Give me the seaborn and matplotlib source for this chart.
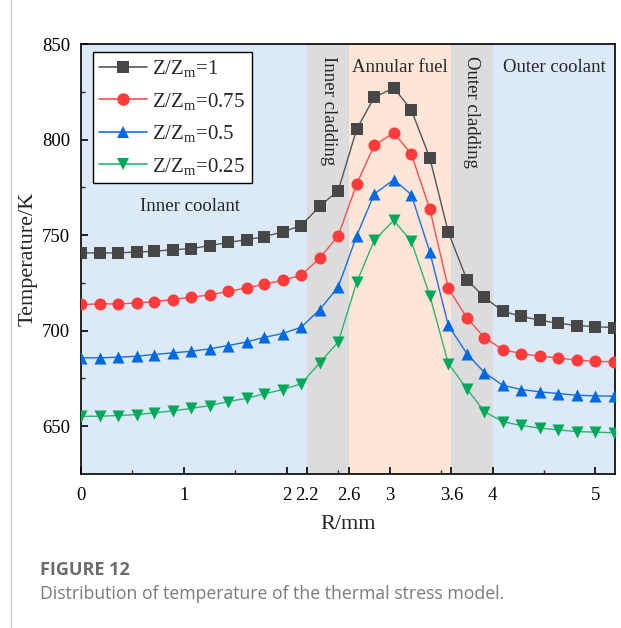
import numpy as np
import pandas as pd
import matplotlib
matplotlib.use("Agg")
import matplotlib.pyplot as plt
from matplotlib.lines import Line2D
from matplotlib.ticker import FixedLocator
import seaborn as sns

# Radial positions of the sampling points (mm)
r_mm = [0.00, 0.18, 0.36, 0.54, 0.71, 0.89, 1.07, 1.25, 1.43, 1.61, 1.78, 1.96, 2.14,
        2.32, 2.50, 2.68, 2.85, 3.04, 3.21, 3.39, 3.57, 3.75, 3.92, 4.10, 4.28, 4.46,
        4.64, 4.82, 5.00, 5.18]

# Temperature (K) at four axial heights
t_z100 = [740.7, 740.7, 740.7, 741.2, 741.5, 742.4, 742.9, 744.5, 746.2, 747.6, 749.2,
          751.7, 755.0, 765.1, 773.3, 805.5, 822.1, 827.0, 815.6, 790.4, 751.5, 726.7,
          717.5, 710.1, 707.5, 705.4, 703.9, 702.7, 702.1, 701.6]
t_z075 = [713.7, 714.0, 714.0, 714.5, 715.2, 716.3, 717.5, 718.7, 720.5, 722.4, 724.3,
          726.4, 729.0, 737.9, 749.7, 776.8, 797.0, 803.5, 792.5, 763.7, 722.2, 706.7,
          696.4, 690.1, 688.0, 686.6, 685.8, 684.5, 684.0, 683.7]
t_z050 = [685.8, 685.8, 686.1, 686.6, 687.5, 688.4, 689.2, 690.5, 692.2, 694.1, 696.5,
          698.5, 701.8, 711.0, 722.9, 749.7, 771.5, 779.0, 771.2, 741.2, 702.8, 688.0,
          678.1, 671.4, 669.2, 668.0, 667.1, 666.2, 665.9, 665.7]
t_z025 = [655.2, 655.2, 655.6, 656.1, 657.0, 658.0, 659.3, 660.8, 662.9, 664.6, 666.9,
          669.2, 672.2, 683.2, 694.1, 725.3, 747.3, 757.7, 746.8, 718.4, 682.8, 669.6,
          657.7, 652.3, 650.4, 649.0, 648.1, 647.2, 646.9, 646.6]

series_labels = [r"Z/Z$_{\rm m}$=1", r"Z/Z$_{\rm m}$=0.75",
                 r"Z/Z$_{\rm m}$=0.5", r"Z/Z$_{\rm m}$=0.25"]

# Material regions along the radius (mm)
region_bounds = [0.0, 2.2, 2.6, 3.6, 4.0, 5.2]
region_names = ["Inner coolant", "Inner cladding", "Annular fuel",
                "Outer cladding", "Outer coolant"]

x_ticks = [0, 1, 2, 2.2, 2.6, 3, 3.6, 4, 5]
x_tick_labels = ["0", "1", "2", "2.2", "2.6", "3", "3.6", "4", "5"]

df = pd.concat([
    pd.DataFrame({"R": r_mm, "T": t, "case": lab})
    for t, lab in zip([t_z100, t_z075, t_z050, t_z025], series_labels)
], ignore_index=True)

sns.set_style("ticks")
plt.rcParams["font.family"] = ["Liberation Serif", "DejaVu Serif"]
plt.rcParams["mathtext.fontset"] = "custom"
plt.rcParams["mathtext.rm"] = "Liberation Serif"
plt.rcParams["mathtext.it"] = "Liberation Serif:italic"

fig = plt.figure(figsize=(6.21, 6.28), dpi=100)
ax = fig.add_axes([81 / 621, 1 - 474 / 628, 534 / 621, 430 / 628])

region_colours = ["#dbeaf6", "#dcdcdc", "#fde5d8", "#dcdcdc", "#dbeaf6"]
for i, c in enumerate(region_colours):
    ax.axvspan(region_bounds[i], region_bounds[i + 1], color=c, lw=0, zorder=0)

line_colours = ["#555555", "#ff4d4d", "#1a6fe0", "#2db374"]
marker_colours = ["#474747", "#ff3b3b", "#0068e0", "#00a85a"]
marker_shapes = ["s", "o", "^", "v"]

sns.lineplot(data=df, x="R", y="T", hue="case", hue_order=series_labels,
             palette=line_colours, sort=False, lw=1.0, ax=ax, legend=False,
             zorder=2)
for lab, mk, mc in zip(series_labels, marker_shapes, marker_colours):
    sub = df[df["case"] == lab]
    sns.scatterplot(x=sub["R"], y=sub["T"], marker=mk, color=mc, s=75,
                    edgecolor=mc, linewidth=0, ax=ax, zorder=3, legend=False)

ax.set_xlim(0, 5.19)
ax.set_ylim(625, 850)
ax.set_xticks(x_ticks)
ax.set_xticklabels(x_tick_labels)
ax.xaxis.set_minor_locator(FixedLocator([0.5, 1.5, 2.5, 3.5, 4.5]))
ax.set_yticks([650, 700, 750, 800, 850])
ax.yaxis.set_minor_locator(FixedLocator([675, 725, 775, 825]))
ax.tick_params(which="major", direction="in", length=5, width=1.2,
               labelsize=13.5, pad=8, colors="black")
ax.tick_params(which="minor", direction="in", length=3, width=1.0)
ax.tick_params(axis="x", pad=9)
for s in ax.spines.values():
    s.set_linewidth(1.2)
    s.set_color("black")

ax.set_xlabel("R/mm", fontsize=16, labelpad=8)
ax.set_ylabel("Temperature/K", fontsize=16, labelpad=3)

# Region names
ax.text(1.06, 765, region_names[0], ha="center", va="center", fontsize=13.5)
ax.text(2.41, 843.5, region_names[1], ha="center", va="top", rotation=-90, fontsize=13.5)
ax.text(3.1, 842, region_names[2], ha="center", va="top", fontsize=13.5)
ax.text(3.8, 843.5, region_names[3], ha="center", va="top", rotation=-90, fontsize=13.5)
ax.text(4.6, 842, region_names[4], ha="center", va="top", fontsize=13.5)

handles = [Line2D([], [], color=lc, lw=1.2, marker=mk, markersize=9,
                  markerfacecolor=mc, markeredgecolor=mc, markeredgewidth=0)
           for lc, mc, mk in zip(line_colours, marker_colours, marker_shapes)]
leg = ax.legend(handles, series_labels, loc="upper left",
                bbox_to_anchor=(12 / 534, 1 - 8 / 430), fontsize=15,
                frameon=True, fancybox=False, handlelength=2.3,
                handletextpad=0.25, labelspacing=0.55, borderpad=0.3,
                borderaxespad=0)
leg.get_frame().set_edgecolor("black")
leg.get_frame().set_linewidth(1.0)
leg.get_frame().set_facecolor("white")
leg.get_frame().set_alpha(1)

# Caption below the chart
fig.text(40 / 621, 1 - 570 / 628, "FIGURE 12", fontsize=13, fontweight="bold",
         color="#6b6b6b", family=["Open Sans", "DejaVu Sans"], va="center")
fig.text(40 / 621, 1 - 594 / 628,
         "Distribution of temperature of the thermal stress model.",
         fontsize=12.7, color="#7a7a7a", family=["Open Sans", "DejaVu Sans"],
         va="center")
fig.add_artist(Line2D([11 / 621, 11 / 621], [0, 1], color="#cccccc", lw=1,
                      transform=fig.transFigure))

fig.savefig("out.png", dpi=100)
